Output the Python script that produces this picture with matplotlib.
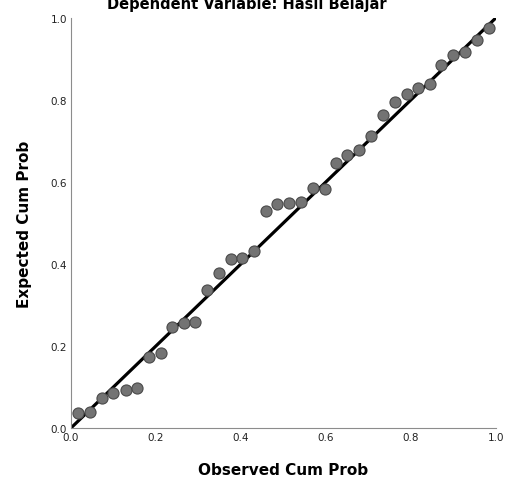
"""P-P plot of regression standardized residuals (SPSS style)."""

import matplotlib
matplotlib.use("Agg")
import matplotlib.pyplot as plt

# ---- data ------------------------------------------------------------------

observed_cum_prob = [
    0.017, 0.045, 0.074, 0.100, 0.129, 0.156, 0.183, 0.211, 0.238, 0.266,
    0.293, 0.321, 0.349, 0.376, 0.403, 0.431, 0.460, 0.486, 0.514, 0.541,
    0.569, 0.597, 0.623, 0.650, 0.679, 0.707, 0.734, 0.762, 0.790, 0.816,
    0.845, 0.872, 0.900, 0.927, 0.955, 0.984,
]
expected_cum_prob = [
    0.036, 0.040, 0.073, 0.085, 0.092, 0.098, 0.172, 0.184, 0.246, 0.257,
    0.259, 0.337, 0.379, 0.413, 0.414, 0.432, 0.529, 0.547, 0.548, 0.550,
    0.585, 0.583, 0.646, 0.665, 0.678, 0.711, 0.763, 0.795, 0.815, 0.828,
    0.838, 0.885, 0.909, 0.916, 0.945, 0.976,
]
ref_line = [0.0, 1.0]
ticks = [0.0, 0.2, 0.4, 0.6, 0.8, 1.0]
tick_labels = ["0.0", "0.2", "0.4", "0.6", "0.8", "1.0"]

TITLE = "Dependent Variable: Hasil Belajar"

# ---- style -----------------------------------------------------------------

C_POINT = "#737373"
C_EDGE = "#4a4a4a"
C_SPINE = "#8c8c8c"
C_TEXT = "#222222"

plt.rcParams.update({
    "font.family": ["DejaVu Sans"],
    "figure.dpi": 100,
})

fig = plt.figure(figsize=(5.07, 4.85), dpi=100)
ax = fig.add_axes([0.140, 0.1155, 0.838, 0.8455])

ax.plot(ref_line, ref_line, color="black", linewidth=2.3, zorder=2,
        solid_capstyle="butt")
ax.scatter(observed_cum_prob, expected_cum_prob, s=64, c=C_POINT,
           edgecolors=C_EDGE, linewidths=0.8, zorder=3)

ax.set_xlim(0, 1.0)
ax.set_ylim(0, 1.0)
ax.set_xticks(ticks)
ax.set_xticklabels(tick_labels)
ax.set_yticks(ticks)
ax.set_yticklabels(tick_labels)
ax.tick_params(length=0, labelsize=7.5, labelcolor=C_TEXT, pad=3)

for side in ("top", "right"):
    ax.spines[side].set_visible(False)
for side in ("left", "bottom"):
    ax.spines[side].set_color(C_SPINE)
    ax.spines[side].set_linewidth(0.8)

ax.set_xlabel("Observed Cum Prob", fontsize=11, fontweight="bold",
              labelpad=14, color="black")
ax.set_ylabel("Expected Cum Prob", fontsize=11, fontweight="bold",
              labelpad=13, color="black")

# title sits partly above the canvas, as in the source export
fig.text(0.486, 0.981, TITLE, ha="center", va="baseline",
         fontsize=10.5, fontweight="bold", color="black")

fig.savefig("out.png", dpi=100)
